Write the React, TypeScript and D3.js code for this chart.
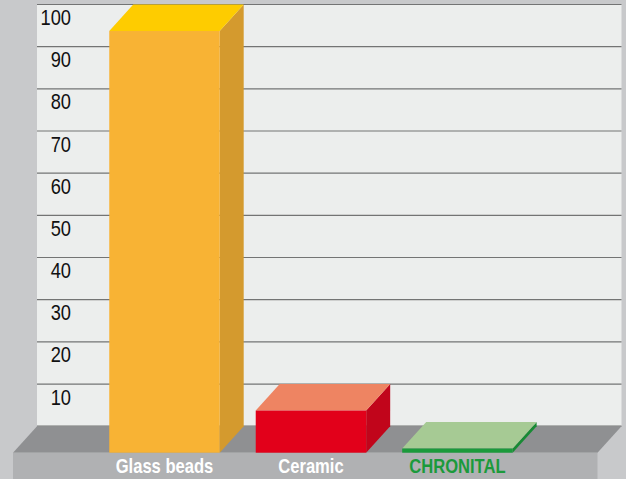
import React from "react";
import * as d3 from "d3";

const categories = ["Glass beads", "Ceramic", "CHRONITAL"];
const values = [100, 10, 1];
const tickValues = [10, 20, 30, 40, 50, 60, 70, 80, 90, 100];
const gridValues = [0, 10, 20, 30, 40, 50, 60, 70, 80, 90, 100];
const faceColors = [
  { front: "#f8b334", top: "#fecc00", side: "#d49a2e", label: "#ffffff" },
  { front: "#e2001a", top: "#ee8462", side: "#c1051b", label: "#ffffff" },
  { front: "#1b9a3b", top: "#a6ca94", side: "#188a34", label: "#1b9a3b" },
];

const W = 626;
const H = 479;
const DX = 24;
const DY = 26.5;
const wallLeft = 37;
const wallRight = 621.5;
const FONT = "'Liberation Sans', Arial, Helvetica, sans-serif";
const SQUEEZE = 0.83;

export default function App() {
  const yBack = d3.scaleLinear().domain([0, 100]).range([426.2, 4.5]);
  const yFront = (v: number) => yBack(v) + DY;
  const x = d3
    .scaleBand<string>()
    .domain(categories)
    .range([13, 598])
    .paddingInner(0.246)
    .paddingOuter(0.62)
    .align(0.53);
  const bw = x.bandwidth();
  const floorBack = yBack(0);
  const floorFront = yFront(0);

  return (
    <svg
      width={W}
      height={H}
      style={{ position: "absolute", left: 0, top: 0, display: "block" }}
    >
      <rect x={0} y={0} width={W} height={H} fill="#c8c9cb" />
      {/* back wall */}
      <rect
        x={wallLeft}
        y={yBack(100)}
        width={wallRight - wallLeft}
        height={floorBack - yBack(100)}
        fill="#eceeed"
      />
      {gridValues.map((g) => (
        <line
          key={g}
          x1={wallLeft}
          x2={wallRight}
          y1={yBack(g)}
          y2={yBack(g)}
          stroke="#737474"
          strokeWidth={1.2}
        />
      ))}
      {tickValues.map((t) => (
        <text
          key={t}
          transform={`translate(71,${yBack(t) + 20.5}) scale(${SQUEEZE},1)`}
          textAnchor="end"
          fontFamily={FONT}
          fontSize={22}
          fill="#111"
        >
          {t}
        </text>
      ))}
      {/* floor top */}
      <path
        d={`M${wallLeft},${floorBack}L${wallRight},${floorBack}L${wallRight - DX},${floorFront}L${wallLeft - DX},${floorFront}Z`}
        fill="#8f9092"
      />
      {/* floor front */}
      <rect
        x={wallLeft - DX}
        y={floorFront}
        width={wallRight - wallLeft}
        height={H - floorFront}
        fill="#b0b1b3"
      />
      {categories.map((c, i) => {
        const x0 = x(c)!;
        const x1 = x0 + bw;
        const yt = yFront(values[i]);
        const yb = floorFront;
        const col = faceColors[i];
        return (
          <g key={c}>
            <path
              d={`M${x1},${yt}L${x1 + DX},${yt - DY}L${x1 + DX},${yb - DY}L${x1},${yb}Z`}
              fill={col.side}
            />
            <path
              d={`M${x0},${yt}L${x0 + DX},${yt - DY}L${x1 + DX},${yt - DY}L${x1},${yt}Z`}
              fill={col.top}
            />
            <rect x={x0} y={yt} width={bw} height={yb - yt} fill={col.front} />
            <text
              transform={`translate(${x0 + bw / 2},473) scale(${SQUEEZE + 0.02},1)`}
              textAnchor="middle"
              fontFamily={FONT}
              fontWeight="bold"
              fontSize={19.5}
              fill={col.label}
            >
              {c}
            </text>
          </g>
        );
      })}
    </svg>
  );
}
